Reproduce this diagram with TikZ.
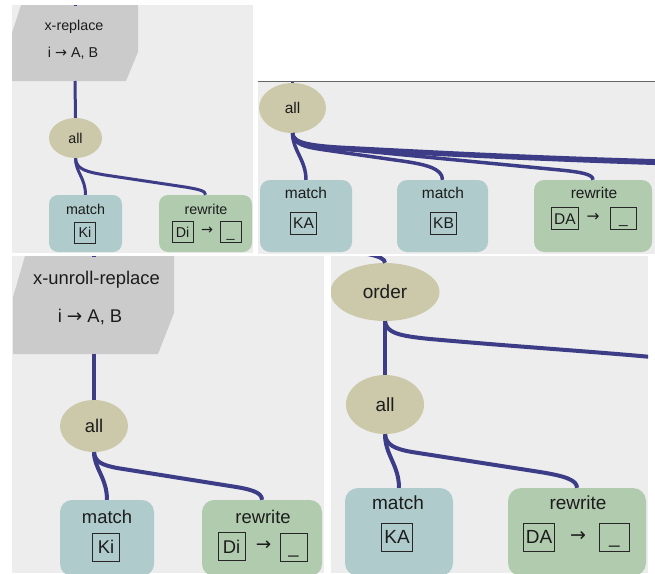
\documentclass[tikz,border=0pt]{standalone}
\usepackage{fontspec}
\setmainfont{Liberation Sans}
\newfontfamily\arrf{DejaVu Sans}
\usetikzlibrary{shapes.geometric}
\definecolor{bgc}{HTML}{EDEDED}
\definecolor{shapec}{HTML}{CBCBCB}
\definecolor{ellc}{HTML}{CBC9A9}
\definecolor{matchc}{HTML}{AFCBCB}
\definecolor{rwc}{HTML}{B1CBAF}
\definecolor{edgec}{HTML}{3D3D87}
\definecolor{txtc}{HTML}{1C1C1C}
\newcommand\fpa{\fontsize{14.3}{16}\selectfont}
\newcommand\fpb{\fontsize{15.5}{17}\selectfont}
\newcommand\fpc{\fontsize{18.4}{20}\selectfont}
\newcommand\fpd{\fontsize{19}{21}\selectfont}
\begin{document}
\begin{tikzpicture}[x=1pt,y=-1pt,
 conn/.style={draw=edgec,line width=#1},
 ell/.style={ellipse,fill=ellc,inner sep=0pt,text=txtc},
 mbox/.style={rectangle,rounded corners=#1,fill=matchc,inner sep=0pt},
 rbox/.style={rectangle,rounded corners=#1,fill=rwc,inner sep=0pt},
 lbl/.style={draw=black!85,line width=0.9pt,inner xsep=2.5pt,inner ysep=0pt,text depth=0pt,text=txtc},
 lbla/.style={lbl,font=\fpa,minimum width=21,minimum height=21,text height=10.2pt},
 lblb/.style={lbl,font=\fpb,minimum width=26,minimum height=22,text height=11.1pt},
 lblc/.style={lbl,font=\fpc,minimum width=27,minimum height=28,text height=13.2pt},
 lbld/.style={lbl,font=\fpd,minimum width=30,minimum height=28,text height=13.6pt},
 txt/.style={text=txtc,inner sep=0pt}
]
\fill[white] (0,0) rectangle (655,573);
\useasboundingbox (0,0) rectangle (655,573);

% ---------------- panel 1
\begin{scope}
\clip (12,5) rectangle (253,253);
\fill[bgc] (12,5) rectangle (253,253);
\fill[shapec] (21,5) -- (138,5) -- (138,52) -- (126,81) -- (12,81) -- (12,33) -- cycle;
\node[txt,font=\fpa] (xr1) at (74,27) {x-replace};
\node[txt,font=\fpa] (xr1b) at (73,53) {i {\arrf →} A, B};
\coordinate (xr1s) at (75,81);
\node[ell,minimum width=53,minimum height=40,font=\fpa] (all1) at (75.5,138) {all};
\node[mbox=9,minimum width=73,minimum height=57] (m1) at (85.5,223.5) {};
\node[rbox=9,minimum width=93,minimum height=57] (r1) at (205.5,223.5) {};
\node[txt,font=\fpa] (m1t) at (85.5,209) {match};
\node[lbla] (m1k) at (85,232.5) {Ki};
\node[txt,font=\fpa] (r1t) at (206,209) {rewrite};
\node[lbla] (r1d) at (182.5,232) {Di};
\node[txt,font=\fpa] (r1a) at (207,231) {\arrf →};
\node[lbla] (r1u) at (230.5,232) {\_};
\draw[conn=3] (75,0) -- (75,5.5);
\draw[conn=3] (xr1s) -- (all1.north);
\draw[conn=3] (all1.south) .. controls (75.5,172) and (85.5,178) .. (m1.north);
\draw[conn=3] (all1.south) .. controls (76,170) and (88,172) .. (105,175) -- (185,187) .. controls (200,189.5) and (205.5,191) .. (r1.north);
\end{scope}

% ---------------- panel 2
\begin{scope}
\clip (258,81) rectangle (655,254);
\fill[bgc] (258,81) rectangle (655,254);
\node[ell,minimum width=67,minimum height=50,font=\fpb] (all2) at (292.5,108) {all};
\node[mbox=10,minimum width=92,minimum height=72] (ka2) at (306,216) {};
\node[mbox=10,minimum width=91,minimum height=72] (kb2) at (442.5,216) {};
\node[rbox=10,minimum width=118,minimum height=72] (rw2) at (593,216) {};
\node[txt,font=\fpb] (ka2t) at (306,193) {match};
\node[lblb] (ka2k) at (303.5,223) {KA};
\node[txt,font=\fpb] (kb2t) at (443,193) {match};
\node[lblb] (kb2k) at (443.5,223) {KB};
\node[txt,font=\fpb] (rw2t) at (594,193) {rewrite};
\node[lblb] (rw2d) at (565,218.5) {DA};
\node[txt,font=\fpb] (rw2a) at (593,217.5) {\arrf →};
\node[lblb] (rw2u) at (623.5,218) {\_};
\coordinate (e2top) at (292.5,78);
\coordinate (e2a) at (662,161);
\coordinate (e2b) at (662,163.5);
\draw[conn=3.5] (e2top) -- (all2.north);
\draw[conn=3.5] (all2.south) .. controls (292.5,150) and (306,160) .. (ka2.north);
\draw[conn=3.5] (all2.south) .. controls (294,145) and (305,147) .. (325,150) -- (395,160) .. controls (425,164) and (442.5,168) .. (kb2.north);
\draw[conn=3.5] (all2.south) .. controls (294,143) and (305,145) .. (322,147) -- (560,170) .. controls (580,172) and (593,174) .. (rw2.north);
\draw[conn=3.5] (all2.south) .. controls (293,143) and (310,146) .. (355,148) .. controls (450,153) and (550,158) .. (e2a);
\draw[conn=3.5] (all2.south) .. controls (293,144) and (312,147.5) .. (355,150) .. controls (450,155) and (550,160) .. (e2b);
\end{scope}
\draw[gray!80!black,line width=1] (258,81) -- (655,81);

% ---------------- panel 3
\begin{scope}
\clip (12,256) rectangle (324,573);
\fill[bgc] (12,256) rectangle (324,573);
\fill[shapec] (25,256) -- (174,256) -- (174,313) -- (158,354) -- (13,354) -- (13,297) -- cycle;
\node[txt,font=\fpc] (xr3) at (96.5,280) {x-unroll-replace};
\node[txt,font=\fpc] (xr3b) at (90,317) {i {\arrf →} A, B};
\coordinate (xr3s) at (94,354);
\node[ell,minimum width=68,minimum height=52,font=\fpc] (all3) at (94,426) {all};
\node[mbox=12,minimum width=94,minimum height=76] (m3) at (107,538) {};
\node[rbox=12,minimum width=120,minimum height=76] (r3) at (262,538) {};
\node[txt,font=\fpc] (m3t) at (107,517) {match};
\node[lblc] (m3k) at (106,547) {Ki};
\node[txt,font=\fpc] (r3t) at (263,517) {rewrite};
\node[lblc] (r3d) at (231.5,546.5) {Di};
\node[txt,font=\fpc] (r3a) at (263.5,545.5) {\arrf →};
\node[lblc] (r3u) at (293.5,547) {\_};
\draw[conn=4] (94,253) -- (94,257);
\draw[conn=4] (xr3s) -- (all3.north);
\draw[conn=4] (all3.south) .. controls (94,468) and (107,478) .. (m3.north);
\draw[conn=4] (all3.south) .. controls (95,462) and (102,465) .. (117,468) -- (230,486) .. controls (250,489) and (262,492) .. (r3.north);
\end{scope}

% ---------------- panel 4
\begin{scope}
\clip (331,256) rectangle (648,573);
\fill[bgc] (331,256) rectangle (648,573);
\node[ell,minimum width=109,minimum height=58,font=\fpd] (ord) at (385,292) {order};
\node[ell,minimum width=78,minimum height=59,font=\fpd] (all4) at (385,404.5) {all};
\node[mbox=13,minimum width=108,minimum height=88] (m4) at (399,532) {};
\node[rbox=13,minimum width=138,minimum height=88] (r4) at (577,532) {};
\node[txt,font=\fpd] (m4t) at (398,503) {match};
\node[lbld] (m4k) at (397,537) {KA};
\node[txt,font=\fpd] (r4t) at (578,503) {rewrite};
\node[lbld] (r4d) at (539,537) {DA};
\node[txt,font=\fpd] (r4a) at (578,536) {\arrf →};
\node[lbld] (r4u) at (614.5,537) {\_};
\coordinate (e4t) at (320,248);
\coordinate (e4r) at (662,358);
\draw[conn=4] (e4t) .. controls (360,252) and (385,255) .. (ord.north);
\draw[conn=4] (ord.south) -- (all4.north);
\draw[conn=4] (ord.south) .. controls (386,333) and (400,336) .. (430,339) .. controls (520,347) and (600,352) .. (e4r);
\draw[conn=4] (all4.south) .. controls (385,455) and (399,465) .. (m4.north);
\draw[conn=4] (all4.south) .. controls (386,445) and (395,449) .. (412,452) -- (540,472) .. controls (565,476) and (577,480) .. (r4.north);
\end{scope}
\end{tikzpicture}
\end{document}
